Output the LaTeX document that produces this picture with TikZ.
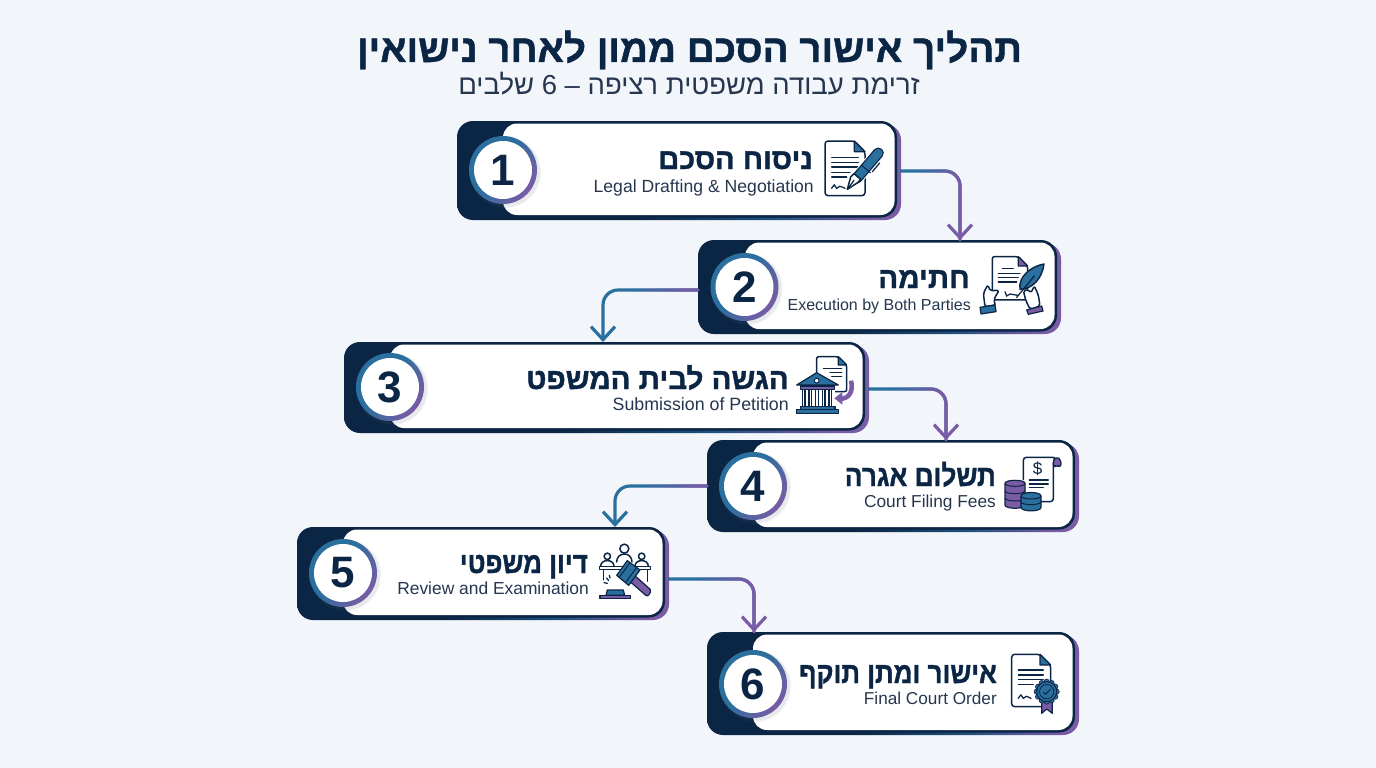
\documentclass[tikz,border=0pt]{standalone}
\usepackage{fontspec}
\usetikzlibrary{arrows.meta,fadings}
\setmainfont{Liberation Sans}
\newfontfamily\hebf[Script=Hebrew]{Liberation Sans}
\newfontfamily\hebh[Script=Hebrew,BoldFeatures={FakeBold=1.2}]{Liberation Sans}
\newfontfamily\hebn[Script=Hebrew,BoldFeatures={FakeBold=1.2,FakeStretch=.88}]{Liberation Sans}
\TeXXeTstate=1
\definecolor{navyc}{HTML}{0B2545}
\definecolor{bluec}{HTML}{2A6F9E}
\definecolor{purpc}{HTML}{7A5BA5}
\definecolor{bgc}{HTML}{F2F5FA}
\definecolor{subc}{HTML}{26364F}
\pgfdeclarehorizontalshading{cardgrad}{100bp}{color(0bp)=(navyc); color(45bp)=(navyc); color(60bp)=(bluec!60!navyc); color(72bp)=(purpc); color(100bp)=(purpc)}
\pgfdeclarehorizontalshading{ringgrad}{100bp}{color(0bp)=(bluec); color(45bp)=(bluec); color(75bp)=(purpc); color(100bp)=(purpc)}
\pgfdeclarehorizontalshading{lrfadeshade}{100bp}{color(0bp)=(pgftransparent!100); color(40bp)=(pgftransparent!100); color(70bp)=(pgftransparent!0); color(100bp)=(pgftransparent!0)}
\pgfdeclarefading{lrfade}{\pgfuseshading{lrfadeshade}}
\tikzset{
  cardbox/.style={rectangle,inner sep=0pt,outer sep=0pt},
  badge/.style={circle,fill=white,inner sep=0pt,outer sep=0pt,minimum size=58pt,text=navyc,font=\fontsize{44}{44}\selectfont\bfseries},
  ttl/.style={anchor=base east,inner sep=0pt,text=navyc,font=\hebh\fontsize{#1}{#1}\selectfont\bfseries},
  ttln/.style={anchor=base east,inner sep=0pt,text=navyc,font=\hebn\fontsize{#1}{#1}\selectfont\bfseries},
  subt/.style={anchor=base east,inner sep=0pt,text=subc,font=\fontsize{#1}{#1}\selectfont},
  conn/.style={line width=3.2pt,rounded corners=15pt,line cap=round},
  ln/.style={draw=navyc,line width=1.5pt,line cap=round,line join=round},
  thinl/.style={draw=navyc,line width=1.25pt,line cap=round},
  bl/.style={fill=bluec,draw=navyc,line width=1.2pt,line join=round},
  pu/.style={fill=purpc,draw=navyc,line width=1.2pt,line join=round},
  wh/.style={fill=white,draw=navyc,line width=1.5pt,line join=round},
}
% id, x0, y0, x1, y1, white-left, badge x, badge y, digit
\newcommand{\stepcard}[9]{%
  \shade[shading=cardgrad,rounded corners=16pt] (#2,#3+3) rectangle (#4,#5);
  \pgfmathsetmacro{\cxx}{(#2+#4)/2}\pgfmathsetmacro{\cyy}{(#3+#5)/2}%
  \pgfmathsetmacro{\wxx}{#4-#2}\pgfmathsetmacro{\hxx}{#5-#3}%
  \node[cardbox,minimum width=\wxx pt,minimum height=\hxx pt] (c#1) at (\cxx,\cyy) {};
  \fill[navyc,rounded corners=16pt] (#2,#3) rectangle (#4-4,#5-2.5);
  \fill[white,rounded corners=14pt] (#6,#3+2.5) rectangle (#4-6.5,#5-5);
  \fill[navyc!70!white,opacity=.07] (#7+2,#8+2) circle (36pt);
  \fill[navyc!70!white,opacity=.07] (#7+2,#8+2) circle (35pt);
  \shade[shading=ringgrad,shading angle=-35] (#7,#8) circle (34pt);
  \node[badge] (b#1) at (#7,#8) {#9};
}
\newcommand{\sigline}[3]{\draw[thinl] plot[smooth] coordinates {(#1,#2) (#1+8,#2-10) (#1+15,#2) (#1+24,#2-6) (#1+#3,#2)};}
\begin{document}
\begin{tikzpicture}[x=1pt,y=-1pt]
\useasboundingbox (0,0) rectangle (1376,768);
\fill[bgc] (0,0) rectangle (1376,768);

\node[inner sep=0pt,anchor=base,text=navyc,font=\hebh\fontsize{38.6}{38.6}\selectfont\bfseries] (title) at (689.5,62) {\beginR תהליך אישור הסכם ממון לאחר נישואין\endR};
\node[inner sep=0pt,anchor=base,text=subc,font=\hebf\fontsize{27.5}{27.5}\selectfont] (subtitle) at (689,95) {\beginR זרימת עבודה משפטית רציפה – 6 שלבים\endR};

\stepcard{1}{457}{121}{901}{220}{503}{503}{170}{1}
\stepcard{2}{698}{240}{1061}{334}{745}{744.5}{287}{2}
\stepcard{3}{344}{342}{869}{433}{390}{390}{387}{3}
\stepcard{4}{707}{440}{1079}{532}{753}{753}{486}{4}
\stepcard{5}{297}{527}{669}{620}{343}{343}{573}{5}
\stepcard{6}{707}{632}{1079}{735}{753}{753}{684}{6}

\node[ttl=29] (t1) at (813,169) {\beginR ניסוח הסכם\endR};
\node[subt=17.6] (s1) at (814,192) {Legal Drafting \& Negotiation};
\node[ttl=29.5] (t2) at (970,288) {\beginR חתימה\endR};
\node[subt=16] (s2) at (971,310) {Execution by Both Parties};
\node[ttl=29.5] (t3) at (789,389) {\beginR הגשה לבית המשפט\endR};
\node[subt=17.8] (s3) at (789,410) {Submission of Petition};
\node[ttln=29.8] (t4) at (996,486) {\beginR תשלום אגרה\endR};
\node[subt=17.3] (s4) at (996,507) {Court Filing Fees};
\node[ttln=29.5] (t5) at (588,573) {\beginR דיון משפטי\endR};
\node[subt=17.4] (s5) at (589,594) {Review and Examination};
\node[ttln=29.5] (t6) at (997,683) {\beginR אישור ומתן תוקף\endR};
\node[subt=17.2] (s6) at (997,704) {Final Court Order};

% connectors
\coordinate (k1) at (960,171);
\coordinate (k2) at (603,290);
\coordinate (k3) at (946,389);
\coordinate (k4) at (615,486);
\coordinate (k5) at (754,579);
\newcommand{\gconn}[4]{% from, bend, to, tip colour
  \draw[conn,bluec,-{Straight Barb[length=13pt,width=24pt,line width=3.2pt,color=#4]}] (#1) -- (#2) -- (#3);
  \draw[conn,purpc,path fading=lrfade] (#1) -- (#2) -- (#3);
}
\gconn{c1.east |- k1}{k1}{c2.north -| k1}{purpc}
\gconn{c2.west |- k2}{k2}{c3.north -| k2}{bluec}
\gconn{c3.east |- k3}{k3}{c4.north -| k3}{purpc}
\gconn{c4.west |- k4}{k4}{c5.north -| k4}{bluec}
\gconn{c5.east |- k5}{k5}{c6.north -| k5}{purpc}

% icon 1: document and pen
\begin{scope}[shift={(815,135)},x=.3333pt,y=-.3333pt]
  \draw[wh,rounded corners=3pt] (30,18)--(118,18)--(150,50)--(150,182)--(30,182)--cycle;
  \draw[bl] (118,18)--(118,50)--(150,50)--cycle;
  \foreach \yy/\xx in {68/130,82/130,96/130,112/105,126/95} \draw[thinl] (50,\yy)--(\xx,\yy);
  \sigline{50}{160}{40}
  \draw[white,line width=13pt,line cap=round] (120,136)--(190,54);
  \draw[navyc,line width=11pt,line cap=round] (125,130)--(190,54);
  \draw[bluec,line width=8.5pt,line cap=round] (125,130)--(190,54);
  \draw[navyc,line width=1pt] (139,90)--(167,114);
  \draw[thinl] (172,110)--(194,84);
  \draw[wh] (97,163)--(107,126)--(117,116)--(137,133)--(128,143)--cycle;
  \draw[thinl] (97,163)--(117,136);
\end{scope}

% icon 2: document, feather and two hands
\begin{scope}[shift={(975,250)},x=.3333pt,y=-.3333pt]
  \draw[wh,rounded corners=2pt] (52,20)--(130,20)--(158,48)--(158,150)--(52,150)--cycle;
  \draw[pu] (130,20)--(130,48)--(158,48)--cycle;
  \draw[thinl] (82,55)--(115,55);
  \foreach \yy/\xx in {70/135,83/130,96/125} \draw[thinl] (70,\yy)--(\xx,\yy);
  \draw[thinl] (90,125)--(95,138)--(105,132)--(128,136);
  \draw[wh,rounded corners=2pt] (30,170)--(25,130)--(38,105)--(47,124)--(58,120)--(72,122)--(62,138)--(56,150)--(62,165)--cycle;
  \draw[wh,rounded corners=2pt] (165,178)--(152,150)--(145,122)--(157,118)--(168,128)--(178,108)--(190,135)--(195,168)--cycle;
  \draw[bl,line width=1.4pt] (135,118) .. controls (128,80) and (170,48) .. (207,42) .. controls (202,85) and (172,118) .. cycle;
  \draw[thinl] (125,142)--(178,78);
  \draw[bl] (15,172)--(60,165)--(63,185)--(18,192)--cycle;
  \draw[pu] (155,180)--(200,168)--(204,183)--(160,193)--cycle;
\end{scope}

% icon 3: courthouse, document and arrow
\begin{scope}[shift={(785,350)},x=.3333pt,y=-.3333pt]
  \draw[wh,rounded corners=2pt] (95,20)--(160,20)--(185,45)--(185,125)--(95,125)--cycle;
  \draw[bl] (160,20)--(160,45)--(185,45)--cycle;
  \foreach \yy/\xa in {55/115,68/135,80/140} \draw[thinl] (\xa,\yy)--(170,\yy);
  \draw[fill=white,draw=none] (45,100) rectangle (150,180);
  \foreach \xa in {57,77,97,117,137} \draw[fill=white,draw=navyc,line width=1.2pt] (\xa-5,118) rectangle (\xa+3,172);
  \draw[bl] (35,105)--(95,68)--(160,105)--cycle;
  \draw[fill=white,draw=navyc,line width=1pt] (95,92) circle (2.4pt);
  \draw[pu] (47,108) rectangle (148,119);
  \draw[bl] (47,170) rectangle (150,179);
  \draw[bl] (35,179) rectangle (160,190);
  \draw[purpc,line width=4.5pt] (198,92) .. controls (207,125) and (190,148) .. (165,146);
  \fill[purpc] (148,145)--(172,126)--(172,164)--cycle;
\end{scope}

% icon 4: receipt and coins
\begin{scope}[shift={(995,450)},x=.3333pt,y=-.3333pt]
  \draw[wh,rounded corners=3pt] (85,90)--(85,22)--(183,22)--(175,32)--(175,155)--(120,155);
  \draw[pu,rounded corners=3pt] (175,52)--(175,30)--(186,20)--(198,30)--(198,52)--(186,45)--cycle;
  \node[inner sep=0pt,text=navyc,font=\fontsize{17}{17}\selectfont] (dollar) at (128,55) {\$};
  \draw[thinl] (103,90)--(160,90) (103,102)--(160,102) (103,113)--(145,113);
  \draw[pu] (30,100)--(30,165) .. controls (30,178) and (90,178) .. (90,165)--(90,100) .. controls (90,88) and (30,88) .. (30,100)--cycle;
  \draw[navyc,line width=1pt] (30,100) .. controls (30,112) and (90,112) .. (90,100);
  \draw[navyc,line width=1pt] (30,122) .. controls (30,134) and (90,134) .. (90,122);
  \draw[navyc,line width=1pt] (30,144) .. controls (30,156) and (90,156) .. (90,144);
  \draw[bl] (78,138)--(78,172) .. controls (78,186) and (138,186) .. (138,172)--(138,138) .. controls (138,124) and (78,124) .. (78,138)--cycle;
  \draw[navyc,line width=1pt] (78,138) .. controls (78,150) and (138,150) .. (138,138);
  \draw[navyc,line width=1pt] (78,155) .. controls (78,167) and (138,167) .. (138,155);
\end{scope}

% icon 5: gavel and hearing
\begin{scope}[shift={(590,538)},x=.3333pt,y=-.3333pt]
  \draw[ln] (103,32) circle (4.5pt);
  \draw[ln] (80,72) .. controls (80,40) and (126,40) .. (126,72);
  \draw[ln] (52,55) circle (3.2pt);
  \draw[ln] (32,85) .. controls (32,62) and (72,62) .. (72,85);
  \draw[ln] (155,55) circle (3.2pt);
  \draw[ln] (135,85) .. controls (135,62) and (175,62) .. (175,85);
  \draw[wh] (28,85) rectangle (182,95);
  \draw[ln] (40,95)--(40,125) (172,95)--(172,130);
  \draw[pu,rounded corners=2pt] (108,120)--(122,102)--(185,158)--(172,176)--cycle;
  \draw[bl] (80,112)--(112,68)--(150,96)--(116,142)--cycle;
  \draw[navyc,line width=1pt] (88,118)--(120,74) (108,132)--(140,88);
  \draw[thinl] (50,120)--(56,128) (42,134)--(52,136) (58,112)--(60,120);
  \draw[bl] (52,156)--(100,156)--(104,172)--(48,172)--cycle;
  \draw[pu] (30,172) rectangle (122,182);
\end{scope}

% icon 6: document and seal
\begin{scope}[shift={(1000,645)},x=.3333pt,y=-.3333pt]
  \draw[wh,rounded corners=3pt] (35,28)--(120,28)--(152,60)--(152,185)--(35,185)--cycle;
  \draw[bl] (120,28)--(120,60)--(152,60)--cycle;
  \foreach \yy/\xx in {75/130,90/130,103/130,118/100} \draw[thinl] (55,\yy)--(\xx,\yy);
  \sigline{55}{160}{38}
  \draw[pu] (125,165)--(125,205)--(140,192)--(157,205)--(157,165)--cycle;
  \foreach \a in {0,30,...,330} \fill[bluec,draw=navyc,line width=.6pt] (140,140)+(\a:30) circle (2.6pt);
  \fill[bluec,draw=navyc,line width=1pt] (140,140) circle (10pt);
  \draw[navyc,line width=.8pt] (140,140) circle (7.2pt);
  \draw[navyc,line width=1pt] (130,142)--(137,148)--(152,132);
\end{scope}
\end{tikzpicture}
\end{document}
